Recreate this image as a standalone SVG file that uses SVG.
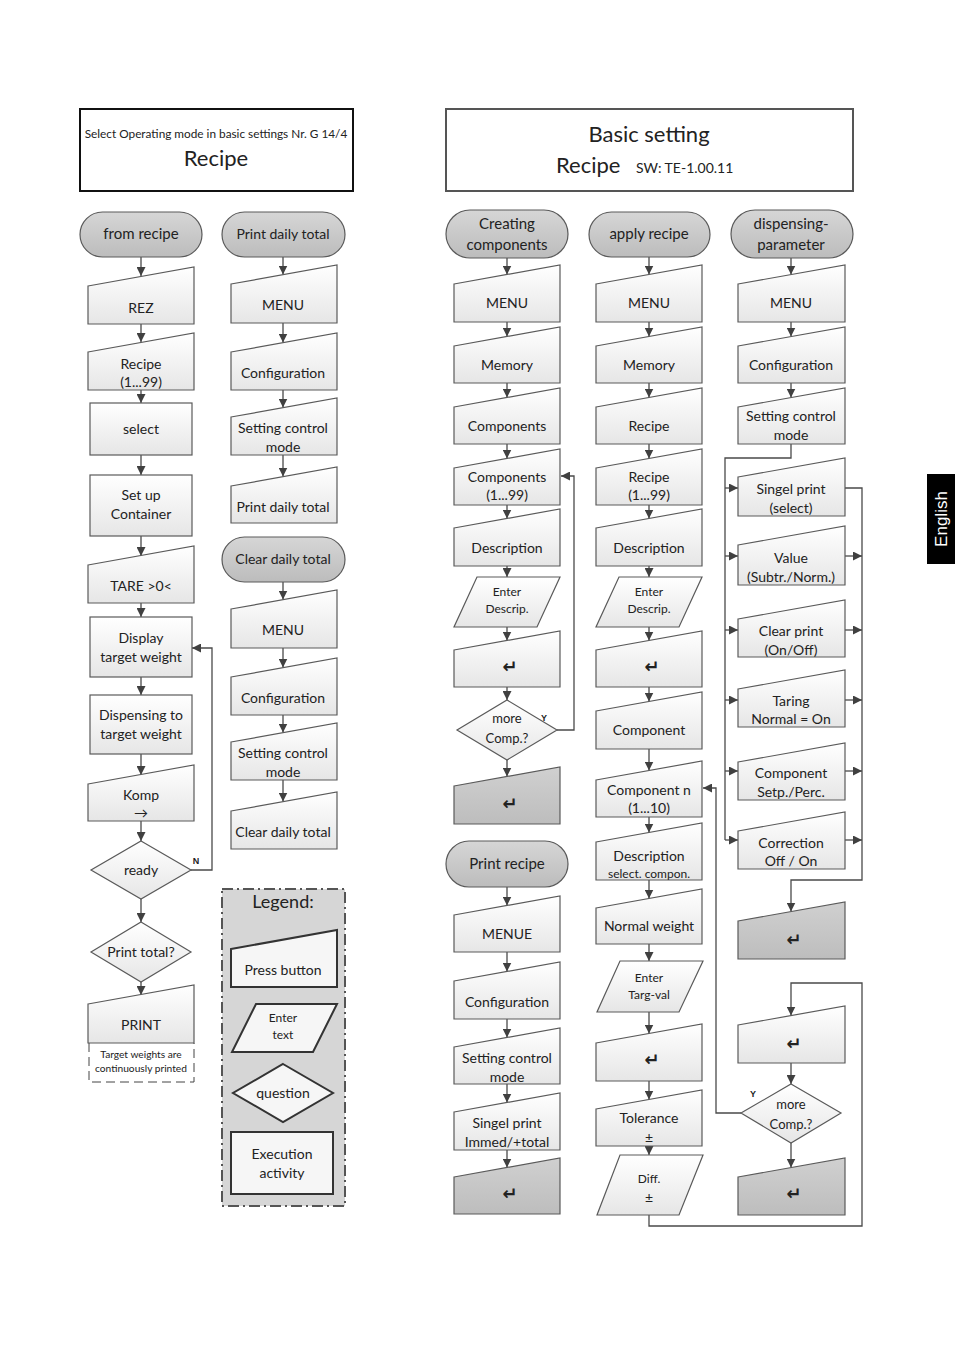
<svg xmlns="http://www.w3.org/2000/svg" width="955" height="1350" viewBox="0 0 955 1350">
<defs>
<linearGradient id="gn" x1="0" y1="0" x2="0" y2="1"><stop offset="0" stop-color="#ffffff"/><stop offset="1" stop-color="#e6e6e6"/></linearGradient>
<linearGradient id="gt" x1="0" y1="0" x2="0" y2="1"><stop offset="0" stop-color="#d6d6d6"/><stop offset="1" stop-color="#bcbcbc"/></linearGradient>
<linearGradient id="gd" x1="0" y1="0" x2="0" y2="1"><stop offset="0" stop-color="#d0d0d0"/><stop offset="1" stop-color="#bdbdbd"/></linearGradient>
<marker id="ar" viewBox="0 0 10 10" refX="10" refY="5" markerWidth="9" markerHeight="9" markerUnits="userSpaceOnUse" orient="auto"><path d="M0,0 L10,5 L0,10 Z" fill="#404040"/></marker>
</defs>
<style>
.n{fill:url(#gn);stroke:#5a5a5a;stroke-width:1.2}
.t{fill:url(#gt);stroke:#5a5a5a;stroke-width:1.2}
.d{fill:url(#gd);stroke:#5a5a5a;stroke-width:1.2}
.lg{fill:#f6f6f6;stroke:#333;stroke-width:2}
.c{fill:none;stroke:#4a4a4a;stroke-width:1.3}
.ca{fill:none;stroke:#4a4a4a;stroke-width:1.3;marker-end:url(#ar)}
text{font-family:Lato,"Open Sans","Liberation Sans",sans-serif;fill:#222;text-anchor:middle}
.s14{font-size:14px}
.s15{font-size:15px}
.s12{font-size:12px}
.s13{font-size:13px}
.lb{font-size:9px;font-weight:bold;font-family:"Liberation Sans",sans-serif}
.rt{font-family:"DejaVu Sans",sans-serif;font-size:18px;font-weight:bold}
</style>
<rect width="955" height="1350" fill="#ffffff"/>

<g id="header-left">
<rect x="80" y="109" width="273" height="82" fill="#fff" stroke="#111" stroke-width="2"/>
<text x="216" y="138" style="font-size:11.8px">Select Operating mode in basic settings Nr. G 14/4</text>
<text x="216" y="166" style="font-size:22px">Recipe</text>
</g>
<g id="header-right">
<rect x="446" y="109" width="407" height="82" fill="#fff" stroke="#555" stroke-width="2"/>
<text x="649" y="142" style="font-size:22px">Basic setting</text>
<text x="556" y="173" style="font-size:22px;text-anchor:start">Recipe</text>
<text x="636" y="173" style="font-size:14px;text-anchor:start">SW: TE-1.00.11</text>
</g>

<g id="connectors">
<path class="ca" d="M141,257 V276"/>
<path class="ca" d="M141,324 V342"/>
<path class="ca" d="M141,390 V403"/>
<path class="ca" d="M141,455 V475"/>
<path class="ca" d="M141,536 V556"/>
<path class="ca" d="M141,603 V617"/>
<path class="ca" d="M141,677 V695"/>
<path class="ca" d="M141,754 V775"/>
<path class="ca" d="M141,821 V841"/>
<path class="ca" d="M141,899 V922"/>
<path class="ca" d="M141,982 V995"/>
<path class="ca" d="M191,870 H212 V648 H192"/>
<path class="ca" d="M283,257 V274.5"/>
<path class="ca" d="M283,323 V342.5"/>
<path class="ca" d="M283,390 V407.5"/>
<path class="ca" d="M283,455 V476.5"/>
<path class="ca" d="M283,582 V599.5"/>
<path class="ca" d="M283,648 V667.5"/>
<path class="ca" d="M283,715 V732.5"/>
<path class="ca" d="M283,780 V801.5"/>
<path class="ca" d="M507,258 V274.5"/>
<path class="ca" d="M507,322 V336.5"/>
<path class="ca" d="M507,383 V397.5"/>
<path class="ca" d="M507,444 V458.5"/>
<path class="ca" d="M507,505 V518.5"/>
<path class="ca" d="M507,566 V577"/>
<path class="ca" d="M507,627 V640.5"/>
<path class="ca" d="M507,687 V700"/>
<path class="ca" d="M507,760 V776.5"/>
<path class="ca" d="M557,730 H574 V476 H561"/>
<path class="ca" d="M507,887 V905.5"/>
<path class="ca" d="M507,952 V971.5"/>
<path class="ca" d="M507,1019 V1037.5"/>
<path class="ca" d="M507,1084 V1102.5"/>
<path class="ca" d="M507,1150 V1167.5"/>
<path class="ca" d="M649,257 V274.5"/>
<path class="ca" d="M649,322 V336.5"/>
<path class="ca" d="M649,383 V397.5"/>
<path class="ca" d="M649,444 V458.5"/>
<path class="ca" d="M649,505 V518.5"/>
<path class="ca" d="M649,566 V577"/>
<path class="ca" d="M649,627 V640.5"/>
<path class="ca" d="M649,687 V701.5"/>
<path class="ca" d="M649,749 V770.5"/>
<path class="ca" d="M649,817 V832.5"/>
<path class="ca" d="M649,880 V898.5"/>
<path class="ca" d="M649,944 V961"/>
<path class="ca" d="M649,1012 V1033.5"/>
<path class="ca" d="M649,1081 V1099.5"/>
<path class="ca" d="M649,1146 V1155"/>
<path class="ca" d="M791,258 V274.5"/>
<path class="ca" d="M791,322 V336.5"/>
<path class="ca" d="M791,383 V397.5"/>
<path class="c" d="M791,444 V458 H725 V840"/>
<path class="ca" d="M725,488 H738"/>
<path class="ca" d="M725,556 H738"/>
<path class="ca" d="M725,630 H738"/>
<path class="ca" d="M725,700 H738"/>
<path class="ca" d="M725,771 H738"/>
<path class="ca" d="M725,840 H738"/>
<path class="ca" d="M845,488 H862 V880 H791 V911.5"/>
<path class="ca" d="M845,556 H862"/>
<path class="ca" d="M845,630 H862"/>
<path class="ca" d="M845,700 H862"/>
<path class="ca" d="M845,771 H862"/>
<path class="ca" d="M845,840 H862"/>
<path class="ca" d="M649,1215 V1226 H862 V983 H791 V1015.5"/>
<path class="ca" d="M791,1063 V1084"/>
<path class="ca" d="M791,1143 V1167.5"/>
<path class="ca" d="M741,1113 H716 V788 H703"/>
</g>

<g id="c1-start"><rect class="t" x="80" y="212" width="122" height="45" rx="22.5"/><text class="s15" x="141" y="239">from recipe</text></g>
<g id="c1-rez"><path class="n" d="M88,286 L194,267 L194,324 L88,324 Z"/><text class="s14" x="141" y="313">REZ</text></g>
<g id="c1-recipe"><path class="n" d="M88,352 L194,333 L194,390 L88,390 Z"/><text class="s14" x="141" y="369">Recipe</text><text class="s14" x="141" y="387">(1...99)</text></g>
<g id="c1-select"><rect class="n" x="90" y="403" width="102" height="52"/><text class="s14" x="141" y="434">select</text></g>
<g id="c1-container"><rect class="n" x="90" y="475" width="102" height="61"/><text class="s14" x="141" y="500">Set up</text><text class="s14" x="141" y="519">Container</text></g>
<g id="c1-tare"><path class="n" d="M88,565 L194,546 L194,603 L88,603 Z"/><text class="s14" x="141" y="591">TARE &gt;0&lt;</text></g>
<g id="c1-display"><rect class="n" x="90" y="617" width="102" height="60"/><text class="s14" x="141" y="643">Display</text><text class="s14" x="141" y="662">target weight</text></g>
<g id="c1-dispensing"><rect class="n" x="90" y="695" width="102" height="59"/><text class="s14" x="141" y="720">Dispensing to</text><text class="s14" x="141" y="739">target weight</text></g>
<g id="c1-komp"><path class="n" d="M88,784 L194,765 L194,821 L88,821 Z"/><text class="s14" x="141" y="800">Komp</text><text class="s14" x="141" y="818">→</text></g>
<g id="c1-ready"><path class="n" d="M141,841 L191,870 L141,899 L91,870 Z"/><text class="s14" x="141" y="875">ready</text><text class="lb" x="196" y="864">N</text></g>
<g id="c1-printtotal"><path class="n" d="M141,922 L191,952 L141,982 L91,952 Z"/><text class="s14" x="141" y="957">Print total?</text></g>
<g id="c1-print"><path class="n" d="M88,1004 L194,985 L194,1043 L88,1043 Z"/><text class="s14" x="141" y="1030">PRINT</text></g>
<g id="c1-note"><path d="M89,1043 V1082 H194 V1043" fill="none" stroke="#444" stroke-width="1" stroke-dasharray="9 5"/><text x="141" y="1058" style="font-size:10.2px">Target weights are</text><text x="141" y="1072" style="font-size:10.2px">continuously printed</text></g>

<g id="c2-start"><rect class="t" x="222" y="212" width="123" height="45" rx="22.5"/><text class="s14" x="283" y="239">Print daily total</text></g>
<g id="c2-menu"><path class="n" d="M231,284 L337,265 L337,323 L231,323 Z"/><text class="s14" x="283" y="310">MENU</text></g>
<g id="c2-config"><path class="n" d="M231,352 L337,333 L337,390 L231,390 Z"/><text class="s14" x="283" y="378">Configuration</text></g>
<g id="c2-setting"><path class="n" d="M231,417 L337,398 L337,455 L231,455 Z"/><text class="s14" x="283" y="433">Setting control</text><text class="s14" x="283" y="452">mode</text></g>
<g id="c2-printdaily"><path class="n" d="M231,486 L337,467 L337,523 L231,523 Z"/><text class="s14" x="283" y="512">Print daily total</text></g>
<g id="c2-clearstart"><rect class="t" x="222" y="537" width="123" height="45" rx="22.5"/><text class="s14" x="283" y="564">Clear daily total</text></g>
<g id="c2-menu2"><path class="n" d="M231,609 L337,590 L337,648 L231,648 Z"/><text class="s14" x="283" y="635">MENU</text></g>
<g id="c2-config2"><path class="n" d="M231,677 L337,658 L337,715 L231,715 Z"/><text class="s14" x="283" y="703">Configuration</text></g>
<g id="c2-setting2"><path class="n" d="M231,742 L337,723 L337,780 L231,780 Z"/><text class="s14" x="283" y="758">Setting control</text><text class="s14" x="283" y="777">mode</text></g>
<g id="c2-cleardaily"><path class="n" d="M231,811 L337,792 L337,849 L231,849 Z"/><text class="s14" x="283" y="837">Clear daily total</text></g>

<g id="legend">
<rect x="222" y="889" width="123" height="317" fill="#d6d6d6" stroke="#555" stroke-width="2" stroke-dasharray="11 4 2 4"/>
<text x="283" y="908" style="font-size:18px">Legend:</text>
<path class="lg" d="M231,949 L337,930 L337,987 L231,987 Z"/><text class="s14" x="283" y="975">Press button</text>
<path class="lg" d="M256,1004 L337,1004 L313,1052 L232,1052 Z"/><text class="s12" x="283" y="1022">Enter</text><text class="s12" x="283" y="1039">text</text>
<path class="lg" d="M283,1064 L333,1093 L283,1122 L233,1093 Z"/><text class="s14" x="283" y="1098">question</text>
<rect class="lg" x="231" y="1132" width="102" height="62"/><text class="s14" x="282" y="1159">Execution</text><text class="s14" x="282" y="1178">activity</text>
</g>

<g id="c3-start"><rect class="t" x="446" y="210" width="122" height="48" rx="24"/><text class="s15" x="507" y="229">Creating</text><text class="s15" x="507" y="250">components</text></g>
<g id="c3-menu"><path class="n" d="M454,284 L560,265 L560,322 L454,322 Z"/><text class="s14" x="507" y="308">MENU</text></g>
<g id="c3-memory"><path class="n" d="M454,346 L560,327 L560,383 L454,383 Z"/><text class="s14" x="507" y="370">Memory</text></g>
<g id="c3-components"><path class="n" d="M454,407 L560,388 L560,444 L454,444 Z"/><text class="s14" x="507" y="431">Components</text></g>
<g id="c3-components99"><path class="n" d="M454,468 L560,449 L560,505 L454,505 Z"/><text class="s14" x="507" y="482">Components</text><text class="s14" x="507" y="500">(1...99)</text></g>
<g id="c3-description"><path class="n" d="M454,528 L560,509 L560,566 L454,566 Z"/><text class="s14" x="507" y="553">Description</text></g>
<g id="c3-enter"><path class="n" d="M477,577 L560,577 L537,627 L454,627 Z"/><text class="s12" x="507" y="596">Enter</text><text class="s12" x="507" y="613">Descrip.</text></g>
<g id="c3-return"><path class="n" d="M454,650 L560,631 L560,687 L454,687 Z"/><text class="rt" x="510" y="673">↵</text></g>
<g id="c3-more"><path class="n" d="M507,700 L557,730 L507,760 L457,730 Z"/><text class="s13" x="507" y="723">more</text><text class="s13" x="507" y="743">Comp.?</text><text class="lb" x="544" y="721">Y</text></g>
<g id="c3-returnend"><path class="d" d="M454,786 L560,767 L560,824 L454,824 Z"/><text class="rt" x="510" y="810">↵</text></g>
<g id="c3-printstart"><rect class="t" x="446" y="841" width="122" height="46" rx="23"/><text class="s15" x="507" y="869">Print recipe</text></g>
<g id="c3-menue"><path class="n" d="M454,915 L560,896 L560,952 L454,952 Z"/><text class="s14" x="507" y="939">MENUE</text></g>
<g id="c3-config"><path class="n" d="M454,981 L560,962 L560,1019 L454,1019 Z"/><text class="s14" x="507" y="1007">Configuration</text></g>
<g id="c3-setting"><path class="n" d="M454,1047 L560,1028 L560,1084 L454,1084 Z"/><text class="s14" x="507" y="1063">Setting control</text><text class="s14" x="507" y="1082">mode</text></g>
<g id="c3-singel"><path class="n" d="M454,1112 L560,1093 L560,1150 L454,1150 Z"/><text class="s14" x="507" y="1128">Singel print</text><text class="s14" x="507" y="1147">Immed/+total</text></g>
<g id="c3-returnend2"><path class="d" d="M454,1177 L560,1158 L560,1214 L454,1214 Z"/><text class="rt" x="510" y="1200">↵</text></g>

<g id="c4-start"><rect class="t" x="589" y="212" width="121" height="45" rx="22.5"/><text class="s15" x="649" y="239">apply recipe</text></g>
<g id="c4-menu"><path class="n" d="M596,284 L702,265 L702,322 L596,322 Z"/><text class="s14" x="649" y="308">MENU</text></g>
<g id="c4-memory"><path class="n" d="M596,346 L702,327 L702,383 L596,383 Z"/><text class="s14" x="649" y="370">Memory</text></g>
<g id="c4-recipe"><path class="n" d="M596,407 L702,388 L702,444 L596,444 Z"/><text class="s14" x="649" y="431">Recipe</text></g>
<g id="c4-recipe99"><path class="n" d="M596,468 L702,449 L702,505 L596,505 Z"/><text class="s14" x="649" y="482">Recipe</text><text class="s14" x="649" y="500">(1...99)</text></g>
<g id="c4-description"><path class="n" d="M596,528 L702,509 L702,566 L596,566 Z"/><text class="s14" x="649" y="553">Description</text></g>
<g id="c4-enter"><path class="n" d="M619,577 L702,577 L679,627 L596,627 Z"/><text class="s12" x="649" y="596">Enter</text><text class="s12" x="649" y="613">Descrip.</text></g>
<g id="c4-return"><path class="n" d="M596,650 L702,631 L702,687 L596,687 Z"/><text class="rt" x="652" y="673">↵</text></g>
<g id="c4-component"><path class="n" d="M596,711 L702,692 L702,749 L596,749 Z"/><text class="s14" x="649" y="735">Component</text></g>
<g id="c4-componentn"><path class="n" d="M596,780 L702,761 L702,817 L596,817 Z"/><text class="s14" x="649" y="795">Component n</text><text class="s14" x="649" y="813">(1...10)</text></g>
<g id="c4-descsel"><path class="n" d="M596,842 L702,823 L702,880 L596,880 Z"/><text class="s14" x="649" y="861">Description</text><text class="s12" x="649" y="878">select. compon.</text></g>
<g id="c4-normal"><path class="n" d="M596,908 L702,889 L702,944 L596,944 Z"/><text class="s14" x="649" y="931">Normal weight</text></g>
<g id="c4-targ"><path class="n" d="M620,961 L703,961 L679,1012 L597,1012 Z"/><text class="s12" x="649" y="982">Enter</text><text class="s12" x="649" y="999">Targ-val</text></g>
<g id="c4-return2"><path class="n" d="M596,1043 L702,1024 L702,1081 L596,1081 Z"/><text class="rt" x="652" y="1066">↵</text></g>
<g id="c4-tolerance"><path class="n" d="M596,1109 L702,1090 L702,1146 L596,1146 Z"/><text class="s14" x="649" y="1123">Tolerance</text><text class="s14" x="649" y="1143">±</text></g>
<g id="c4-diff"><path class="n" d="M620,1155 L703,1155 L679,1215 L597,1215 Z"/><text class="s12" x="649" y="1183">Diff.</text><text class="s14" x="649" y="1203">±</text></g>

<g id="c5-start"><rect class="t" x="731" y="210" width="122" height="48" rx="24"/><text class="s15" x="791" y="229">dispensing-</text><text class="s15" x="791" y="250">parameter</text></g>
<g id="c5-menu"><path class="n" d="M738,284 L845,265 L845,322 L738,322 Z"/><text class="s14" x="791" y="308">MENU</text></g>
<g id="c5-config"><path class="n" d="M738,346 L845,327 L845,383 L738,383 Z"/><text class="s14" x="791" y="370">Configuration</text></g>
<g id="c5-setting"><path class="n" d="M738,407 L845,388 L845,444 L738,444 Z"/><text class="s14" x="791" y="421">Setting control</text><text class="s14" x="791" y="440">mode</text></g>
<g id="c5-singel"><path class="n" d="M738,477 L845,458 L845,516 L738,516 Z"/><text class="s14" x="791" y="494">Singel print</text><text class="s14" x="791" y="513">(select)</text></g>
<g id="c5-value"><path class="n" d="M738,545 L845,526 L845,585 L738,585 Z"/><text class="s14" x="791" y="563">Value</text><text class="s14" x="791" y="582">(Subtr./Norm.)</text></g>
<g id="c5-clear"><path class="n" d="M738,619 L845,600 L845,657 L738,657 Z"/><text class="s14" x="791" y="636">Clear print</text><text class="s14" x="791" y="655">(On/Off)</text></g>
<g id="c5-taring"><path class="n" d="M738,689 L845,670 L845,727 L738,727 Z"/><text class="s14" x="791" y="706">Taring</text><text class="s14" x="791" y="724">Normal = On</text></g>
<g id="c5-component"><path class="n" d="M738,762 L845,743 L845,800 L738,800 Z"/><text class="s14" x="791" y="778">Component</text><text class="s14" x="791" y="797">Setp./Perc.</text></g>
<g id="c5-correction"><path class="n" d="M738,831 L845,812 L845,869 L738,869 Z"/><text class="s14" x="791" y="848">Correction</text><text class="s14" x="791" y="866">Off / On</text></g>
<g id="c5-returnend"><path class="d" d="M738,921 L845,902 L845,959 L738,959 Z"/><text class="rt" x="794" y="946">↵</text></g>
<g id="c5-return"><path class="n" d="M738,1025 L845,1006 L845,1063 L738,1063 Z"/><text class="rt" x="794" y="1050">↵</text></g>
<g id="c5-more"><path class="n" d="M791,1084 L841,1113 L791,1143 L741,1113 Z"/><text class="s13" x="791" y="1109">more</text><text class="s13" x="791" y="1129">Comp.?</text><text class="lb" x="753" y="1097">Y</text></g>
<g id="c5-returnend2"><path class="d" d="M738,1177 L845,1158 L845,1215 L738,1215 Z"/><text class="rt" x="794" y="1200">↵</text></g>

<g id="lang-tab">
<rect x="927" y="474" width="28" height="90" fill="#000"/>
<text transform="translate(947,519) rotate(-90)" style="font-family:'Liberation Sans',Arial,sans-serif;font-size:17px;fill:#fff">English</text>
</g>
</svg>
